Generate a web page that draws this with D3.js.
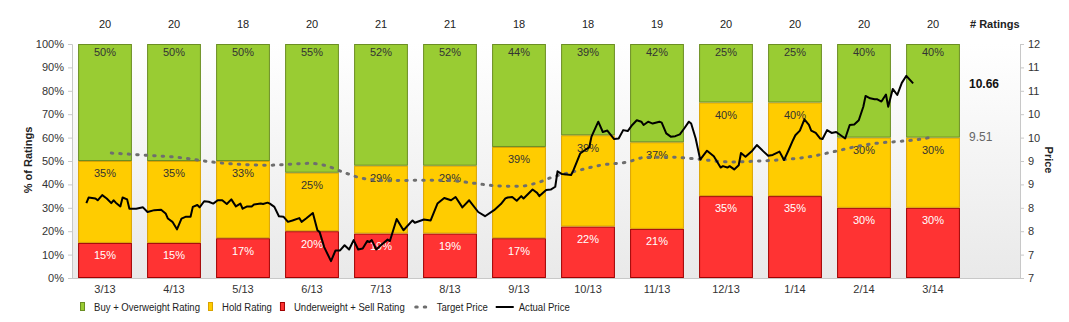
<!DOCTYPE html>
<html>
<head>
<meta charset="utf-8">
<script src="https://cdn.jsdelivr.net/npm/d3@7"></script>
<style>
  body { margin: 0; background: #fff; }
  svg { font-family: "Liberation Sans", Arial, sans-serif; font-size: 11px; }
  .axis path, .axis line { stroke: #c8c8c8; }
  .axis text { fill: #333; font-size: 11px; }
</style>
</head>
<body>
<svg id="chart" width="1069" height="322"></svg>
<script>
// ratings per month
const months = ['3/13', '4/13', '5/13', '6/13', '7/13', '8/13', '9/13', '10/13', '11/13', '12/13', '1/14', '2/14', '3/14'];
const ratingCounts = [20, 20, 18, 20, 21, 21, 18, 18, 19, 20, 20, 20, 20];
const buyPct = [50, 50, 50, 55, 52, 52, 44, 39, 42, 25, 25, 40, 40];
const holdPct = [35, 35, 33, 25, 29, 29, 39, 39, 37, 40, 40, 30, 30];
const sellPct = [15, 15, 17, 20, 19, 19, 17, 22, 21, 35, 35, 30, 30];

// actual price, days counted from 1 Mar 2013
const priceDays = [7, 8, 11, 12, 14, 16, 18, 19, 20, 22, 23, 25, 26, 29, 32, 34, 37, 40, 42, 43, 45, 47, 49, 51, 53,
    54, 56, 57, 59, 61, 63, 65, 67, 69, 71, 73, 75, 76, 78, 80, 81, 84, 85, 87, 88, 90, 92, 94, 96, 98, 101,
    102, 104, 107, 109, 110, 112, 115, 117, 119, 121, 123, 125, 127, 129, 131, 132, 133, 135, 137, 140, 141,
    144, 147, 151, 152, 156, 159, 162, 165, 168, 170, 173, 176, 180, 183, 187, 190, 192, 193, 195, 197, 199,
    200, 204, 206, 207, 210, 212, 214, 215, 217, 221, 222, 225, 227, 229, 230, 233, 235, 237, 240, 242, 244,
    246, 248, 250, 252, 253, 255, 257, 260, 261, 263, 265, 267, 269, 271, 273, 274, 276, 278, 281, 284, 287,
    288, 290, 291, 293, 295, 296, 298, 301, 303, 306, 308, 310, 313, 315, 317, 319, 320, 322, 324, 326, 327,
    329, 331, 332, 334, 336, 338, 340, 342, 344, 346, 348, 350, 351, 353, 355, 356, 358, 360, 361, 363, 365,
    367, 369, 372, 374];
const priceValues = [8.10, 8.22, 8.20, 8.16, 8.27, 8.20, 8.10, 8.16, 8.11, 8.03, 8.22, 8.18, 7.98, 7.98, 8.01, 7.91,
    7.95, 7.96, 7.88, 7.77, 7.70, 7.54, 7.77, 7.81, 7.81,
    8.02, 8.06, 8.01, 8.14, 8.13, 8.09, 8.16, 8.16, 8.08, 8.18, 8.03, 8.09, 7.98, 8.03, 8.03, 8.07, 8.09, 8.08,
    8.11, 8.09, 8.02, 7.82, 7.81, 7.70, 7.73, 7.78,
    7.70, 7.77, 7.89, 7.52, 7.48, 7.16, 6.86, 7.09, 7.09, 7.20, 7.11, 7.31, 7.11, 7.13, 7.29, 7.27, 7.31, 7.11,
    7.20, 7.32, 7.29,
    7.76, 7.52, 7.73, 7.68, 7.75, 7.73, 8.09, 8.21, 8.16, 8.23, 8.01, 8.16, 7.91, 7.82, 7.95, 8.08, 8.20, 8.22,
    8.23, 8.15, 8.25,
    8.20, 8.39, 8.32, 8.25, 8.38, 8.39, 8.45, 8.78, 8.72, 8.70, 8.80, 9.16, 9.23, 9.29, 9.52, 9.84, 9.62, 9.65,
    9.47, 9.48, 9.66,
    9.64, 9.77, 9.87, 9.84, 9.77, 9.84, 9.80, 9.84, 9.82, 9.59, 9.52, 9.53, 9.57, 9.70, 9.84, 9.80, 9.48, 9.03,
    9.22, 9.10, 8.86,
    8.89, 8.86, 8.89, 8.82, 8.91, 9.17, 9.09, 9.22, 9.34, 9.20, 9.11, 9.13, 9.20, 9.02, 9.23, 9.45, 9.55, 9.65,
    9.89, 9.77, 9.65,
    9.60, 9.48, 9.47, 9.66, 9.60, 9.62, 9.55, 9.48, 9.77, 9.78, 9.87, 10.16, 10.39, 10.34, 10.32, 10.32, 10.27,
    10.42, 10.16, 10.54,
    10.41, 10.67, 10.82, 10.66];

// mean target price, days counted from 1 Mar 2013
const targetDays = [18, 31, 47, 66, 87, 106, 112, 120, 129, 141, 156, 168, 179, 188, 198, 207, 213, 222, 234, 246,
    254, 266, 275, 291, 304, 315, 326, 337, 346, 356, 366, 377, 380];
const targetValues = [9.17, 9.13, 9.08, 8.96, 8.91, 8.95, 8.91, 8.77, 8.63, 8.58, 8.59, 8.58, 8.52, 8.47, 8.46,
    8.55, 8.66, 8.77, 8.91, 8.98, 9.08, 9.08, 9.05, 8.98, 9.00, 9.03, 9.09, 9.20, 9.30, 9.38, 9.42, 9.48, 9.51];

const lastPrice = '10.66';
const lastTarget = '9.51';
const pctTicks = [0, 10, 20, 30, 40, 50, 60, 70, 80, 90, 100];
const priceTicks = [6.5, 7, 7.5, 8, 8.5, 9, 9.5, 10, 10.5, 11, 11.5];

const legendItems = [
    {label: 'Buy + Overweight Rating', type: 'buy'},
    {label: 'Hold Rating', type: 'hold'},
    {label: 'Underweight + Sell Rating', type: 'sell'},
    {label: 'Target Price', type: 'target'},
    {label: 'Actual Price', type: 'actual'}
];

const colors = {
    buy: {fill: '#99cc33', stroke: '#6b8e23', text: '#333'},
    hold: {fill: '#ffcc00', stroke: '#d9a300', text: '#333'},
    sell: {fill: '#ff3333', stroke: '#a00000', text: '#fff'}
};

const plot = {left: 72, right: 1020, top: 44, bottom: 278};
const start = new Date(2013, 2, 1);

const svg = d3.select('#chart');

// scales
const x = d3.scaleBand()
    .domain(months)
    .range([70.5, 967.5])
    .paddingInner(0.22)
    .paddingOuter(0.11);

const xTime = d3.scaleTime()
    .domain([start, new Date(2014, 3, 1)])
    .range([70.5, 967.5]);

const yPct = d3.scaleLinear().domain([0, 100]).range([plot.bottom, plot.top]);
const yPrice = d3.scaleLinear().domain([6.5, 11.5]).range([plot.bottom, plot.top]);

// plot background
const grad = svg.append('defs').append('linearGradient')
    .attr('id', 'bg').attr('x1', 0).attr('y1', 0).attr('x2', 0).attr('y2', 1);
grad.append('stop').attr('offset', '0%').attr('stop-color', '#ffffff');
grad.append('stop').attr('offset', '100%').attr('stop-color', '#e9e9e9');

svg.append('rect')
    .attr('x', plot.left).attr('y', plot.top)
    .attr('width', plot.right - plot.left).attr('height', plot.bottom - plot.top)
    .attr('fill', 'url(#bg)');

// stacked bars
const rows = months.map((m, i) => ({month: m, sell: sellPct[i], hold: holdPct[i], buy: buyPct[i]}));
const series = d3.stack().keys(['sell', 'hold', 'buy'])(rows);

const layer = svg.append('g').selectAll('g')
    .data(series)
    .enter().append('g');

layer.selectAll('rect')
    .data(s => s.map(d => ({key: s.key, d: d})))
    .enter().append('rect')
    .attr('x', v => x(v.d.data.month) + 0.5)
    .attr('y', v => yPct(v.d[1]) + 0.5)
    .attr('width', x.bandwidth() - 1)
    .attr('height', v => yPct(v.d[0]) - yPct(v.d[1]) - 1)
    .attr('fill', v => colors[v.key].fill)
    .attr('stroke', v => colors[v.key].stroke)
    .attr('stroke-width', 1);

layer.selectAll('text')
    .data(s => s.map(d => ({key: s.key, d: d})))
    .enter().append('text')
    .attr('x', v => x(v.d.data.month) + x.bandwidth() / 2)
    .attr('y', v => yPct(v.d[1]) + (v.key === 'buy' ? 8.5 : 12.5))
    .attr('dy', '0.35em')
    .attr('text-anchor', 'middle')
    .attr('fill', v => colors[v.key].text)
    .text(v => v.d.data[v.key] + '%');

// axes
svg.append('g')
    .attr('class', 'axis')
    .attr('transform', 'translate(' + plot.left + ',0)')
    .call(d3.axisLeft(yPct).tickValues(pctTicks).tickSize(4).tickPadding(4).tickFormat(d => d + '%'));

svg.append('g')
    .attr('class', 'axis')
    .attr('transform', 'translate(' + plot.right + ',0)')
    .call(d3.axisRight(yPrice).tickValues(priceTicks).tickSize(4).tickPadding(4).tickFormat(d => Math.round(d)));

svg.append('line')
    .attr('x1', plot.left).attr('x2', plot.right)
    .attr('y1', plot.bottom + 0.5).attr('y2', plot.bottom + 0.5)
    .attr('stroke', '#c8c8c8');

svg.append('g').selectAll('text')
    .data(months)
    .enter().append('text')
    .attr('x', d => x(d) + x.bandwidth() / 2)
    .attr('y', 289)
    .attr('dy', '0.35em')
    .attr('text-anchor', 'middle')
    .attr('fill', '#333')
    .text(d => d);

// rating counts on top
svg.append('g').selectAll('text')
    .data(ratingCounts)
    .enter().append('text')
    .attr('x', (d, i) => x(months[i]) + x.bandwidth() / 2)
    .attr('y', 24)
    .attr('dy', '0.35em')
    .attr('text-anchor', 'middle')
    .attr('fill', '#222')
    .text(d => d);

svg.append('text')
    .attr('x', 970).attr('y', 24).attr('dy', '0.35em')
    .attr('font-weight', 'bold').attr('fill', '#222')
    .text('# Ratings');

// axis titles
svg.append('text')
    .attr('transform', 'translate(28,160) rotate(-90)')
    .attr('text-anchor', 'middle').attr('dy', '0.35em')
    .attr('font-weight', 'bold').attr('fill', '#222')
    .text('% of Ratings');

svg.append('text')
    .attr('transform', 'translate(1049,160) rotate(90)')
    .attr('text-anchor', 'middle').attr('dy', '0.35em')
    .attr('font-weight', 'bold').attr('fill', '#222')
    .text('Price');

// target price (dotted) and actual price lines
const target = targetDays.map((d, i) => ({date: d3.timeDay.offset(start, d), value: targetValues[i]}));
const price = priceDays.map((d, i) => ({date: d3.timeDay.offset(start, d), value: priceValues[i]}));

const line = d3.line()
    .x(d => xTime(d.date))
    .y(d => yPrice(d.value));

svg.append('path')
    .datum(target)
    .attr('d', line.curve(d3.curveMonotoneX))
    .attr('fill', 'none')
    .attr('stroke', '#6e6e6e')
    .attr('stroke-width', 3)
    .attr('stroke-linecap', 'round')
    .attr('stroke-dasharray', '1.5,7');

svg.append('path')
    .datum(price)
    .attr('d', line.curve(d3.curveLinear))
    .attr('fill', 'none')
    .attr('stroke', '#000')
    .attr('stroke-width', 2)
    .attr('stroke-linejoin', 'round');

// last values
svg.append('text')
    .attr('x', 969).attr('y', yPrice(+lastPrice)).attr('dy', '0.35em')
    .attr('font-size', '12px').attr('font-weight', 'bold').attr('fill', '#111')
    .text(lastPrice);

svg.append('text')
    .attr('x', 969).attr('y', yPrice(+lastTarget)).attr('dy', '0.35em')
    .attr('font-size', '12px').attr('fill', '#666')
    .text(lastTarget);

// legend, laid out left to right from measured label widths
const legendScale = 0.87;
let lx = 80;
legendItems.forEach(item => {
    const g = svg.append('g').attr('transform', 'translate(' + lx + ',307)');
    let symbolW;
    if (colors[item.type]) {
        g.append('rect')
            .attr('x', 0.5).attr('y', -4.5)
            .attr('width', 4).attr('height', 8)
            .attr('fill', colors[item.type].fill)
            .attr('stroke', colors[item.type].stroke);
        symbolW = 14;
    } else if (item.type === 'target') {
        g.append('line')
            .attr('x1', 3).attr('x2', 16).attr('y1', 0).attr('y2', 0)
            .attr('stroke', '#6e6e6e').attr('stroke-width', 3)
            .attr('stroke-linecap', 'round').attr('stroke-dasharray', '1.5,7');
        symbolW = 24;
    } else {
        g.append('line')
            .attr('x1', 0).attr('x2', 18).attr('y1', 0).attr('y2', 0)
            .attr('stroke', '#000').attr('stroke-width', 2);
        symbolW = 23;
    }
    const t = g.append('text')
        .attr('transform', 'translate(' + symbolW + ',0) scale(' + legendScale + ',1)')
        .attr('dy', '0.35em')
        .attr('fill', '#222')
        .text(item.label);
    lx += symbolW + t.node().getComputedTextLength() * legendScale + 8;
});
</script>
</body>
</html>
